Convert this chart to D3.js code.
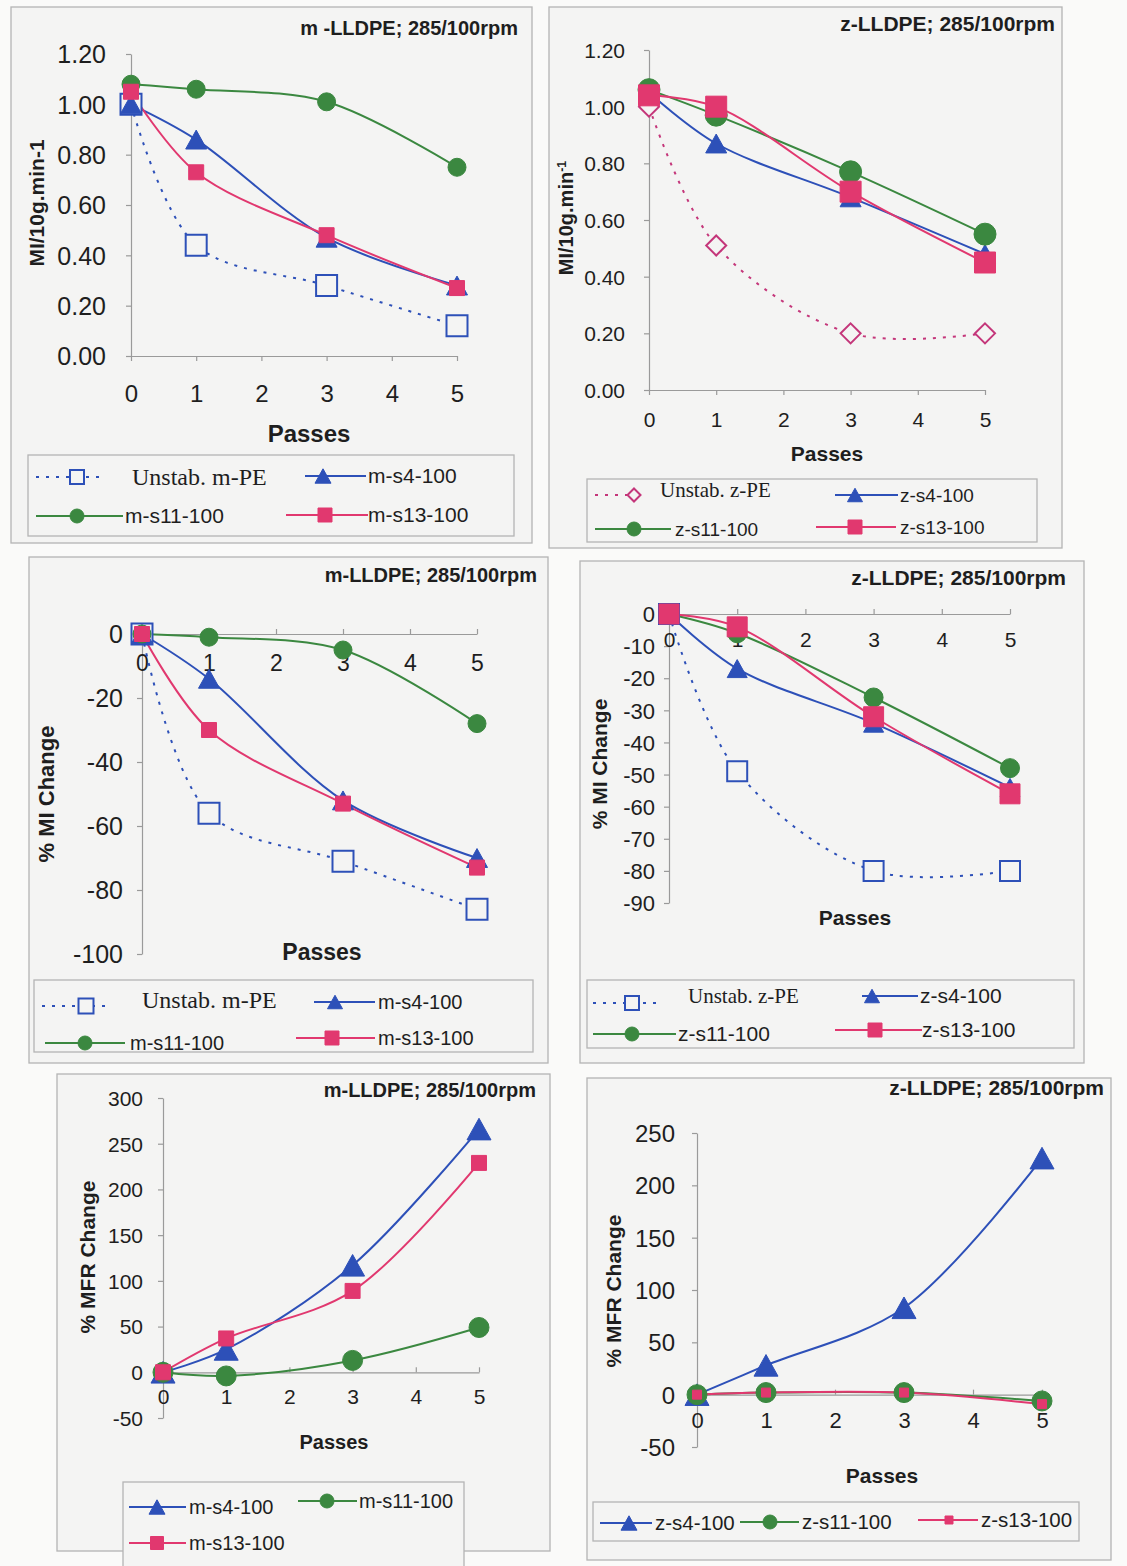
<!DOCTYPE html>
<html>
<head>
<meta charset="utf-8">
<script src="https://cdn.jsdelivr.net/npm/d3@7"></script>
<style>
  html, body { margin: 0; padding: 0; background: #fafaf9; }
  svg { display: block; }
</style>
</head>
<body>
<svg id="fig" width="1127" height="1566"></svg>
<script>
// ---------- data ----------
const passes = [0, 1, 3, 5];
const passTicks = [0, 1, 2, 3, 4, 5];

// melt index, MI/10g.min-1
const miM_unstab = [1.00, 0.44, 0.28, 0.12];
const miM_s4     = [1.00, 0.86, 0.47, 0.28];
const miM_s11    = [1.08, 1.06, 1.01, 0.75];
const miM_s13    = [1.05, 0.73, 0.48, 0.27];
const miZ_unstab = [1.00, 0.51, 0.20, 0.20];
const miZ_s4     = [1.05, 0.87, 0.68, 0.48];
const miZ_s11    = [1.06, 0.97, 0.77, 0.55];
const miZ_s13    = [1.04, 1.00, 0.70, 0.45];

// % MI change
const pctM_unstab = [0, -56, -71, -86];
const pctM_s4     = [0, -14, -52, -70];
const pctM_s11    = [0, -1, -5, -28];
const pctM_s13    = [0, -30, -53, -73];
const pctZ_unstab = [0, -49, -80, -80];
const pctZ_s4     = [0, -17, -34, -54];
const pctZ_s11    = [0, -6, -26, -48];
const pctZ_s13    = [0, -4, -32, -56];

// % MFR change
const mfrM_s4  = [0, 25, 117, 266];
const mfrM_s11 = [0, -4, 13, 49];
const mfrM_s13 = [0, 37, 89, 229];
const mfrZ_s4  = [0, 28, 83, 226];
const mfrZ_s11 = [0, 2, 2, -6];
const mfrZ_s13 = [0, 2, 2, -9];

// tick values
const miTicks   = [0, 0.2, 0.4, 0.6, 0.8, 1.0, 1.2];
const pctMTicks = [0, -20, -40, -60, -80, -100];
const pctZTicks = [0, -10, -20, -30, -40, -50, -60, -70, -80, -90];
const mfrMTicks = [-50, 0, 50, 100, 150, 200, 250, 300];
const mfrZTicks = [-50, 0, 50, 100, 150, 200, 250];

// series names
const namesM = ["Unstab. m-PE", "m-s4-100", "m-s11-100", "m-s13-100"];
const namesZ = ["Unstab. z-PE", "z-s4-100", "z-s11-100", "z-s13-100"];
const titleM1 = "m -LLDPE; 285/100rpm";
const titleM = "m-LLDPE; 285/100rpm";
const titleZ = "z-LLDPE; 285/100rpm";

// ---------- styling ----------
const SANS = '"Liberation Sans", Arial, sans-serif';
const SERIF = '"Liberation Serif", "Times New Roman", serif';
const C = { blue: "#2d50b8", green: "#3b8840", red: "#e1386f", magenta: "#c4367a",
            axis: "#9a9a9a", frame: "#b4b4b4", text: "#1e1e1e", panel: "#f4f4f3" };

const svg = d3.select("#fig");

function markerPath(type, s) {
  const h = s / 2;
  if (type === "triangle") { const t = s * 0.9 / 2; return `M0,${-t}L${h},${t}L${-h},${t}Z`; }
  if (type === "square" || type === "osquare") return `M${-h},${-h}H${h}V${h}H${-h}Z`;
  if (type === "diamond") return `M0,${-h}L${h},0L0,${h}L${-h},0Z`;
  const p = d3.path(); p.arc(0, 0, h, 0, 2 * Math.PI); p.closePath(); return p.toString();
}

function drawMarker(g, type, color, s, x, y) {
  const open = type === "osquare" || type === "diamond";
  g.append("path")
    .attr("d", markerPath(type, s))
    .attr("transform", `translate(${x},${y})`)
    .attr("fill", open ? C.panel : color)
    .attr("stroke", color)
    .attr("stroke-width", open ? 2 : 1);
}

function drawPanel(p) {
  const g = svg.append("g");
  const [fx0, fy0, fx1, fy1] = p.frame;
  g.append("rect").attr("x", fx0).attr("y", fy0).attr("width", fx1 - fx0).attr("height", fy1 - fy0)
    .attr("fill", C.panel).attr("stroke", C.frame).attr("stroke-width", 1.3);

  const x = d3.scaleLinear().domain([0, 5]).range(p.x);
  const y = d3.scaleLinear().domain(p.yDomain).range(p.y);

  // y axis
  const ya = g.append("g").attr("transform", `translate(${x(0)},0)`)
    .call(d3.axisLeft(y).tickValues(p.yTicks).tickFormat(p.yFmt).tickSizeInner(5).tickSizeOuter(0));
  ya.select(".domain").attr("stroke", C.axis).attr("stroke-width", 1.2);
  ya.selectAll(".tick line").attr("stroke", C.axis).attr("stroke-width", 1.2);
  ya.selectAll(".tick text").attr("x", -p.yLabGap).attr("dy", "0.35em")
    .attr("font-family", SANS).attr("font-size", p.yFont).attr("fill", C.text);

  // x axis
  const xa = g.append("g").attr("transform", `translate(0,${y(0)})`)
    .call(d3.axisBottom(x).tickValues(passTicks).tickFormat(d3.format("d"))
      .tickSizeInner(5 * p.xTickDir).tickSizeOuter(0));
  xa.select(".domain").attr("stroke", C.axis).attr("stroke-width", 1.2);
  xa.selectAll(".tick line").attr("stroke", C.axis).attr("stroke-width", 1.2);
  xa.selectAll(".tick text").attr("y", p.xLabOff).attr("dy", "0.35em")
    .attr("font-family", SANS).attr("font-size", p.xFont).attr("fill", C.text);

  // titles
  g.append("text").attr("x", p.title.x).attr("y", p.title.y).attr("text-anchor", "end")
    .attr("font-family", SANS).attr("font-weight", "bold").attr("font-size", p.title.size)
    .attr("fill", C.text).text(p.title.text);
  g.append("text").attr("x", p.xTitle.x).attr("y", p.xTitle.y).attr("text-anchor", "middle")
    .attr("dy", "0.35em").attr("font-family", SANS).attr("font-weight", "bold")
    .attr("font-size", p.xTitle.size).attr("fill", C.text).text("Passes");
  const yt = g.append("text").attr("transform", `translate(${p.yTitle.x},${p.yTitle.y}) rotate(-90)`)
    .attr("text-anchor", "middle").attr("dy", "0.35em").attr("font-family", SANS)
    .attr("font-weight", "bold").attr("font-size", p.yTitle.size).attr("fill", C.text);
  yt.append("tspan").text(p.yTitle.text);
  if (p.yTitle.sup) {
    yt.append("tspan").attr("dy", "-0.55em").attr("font-size", p.yTitle.size * 0.62).text(p.yTitle.sup);
  }

  // series
  const line = d3.line().x(d => x(d[0])).y(d => y(d[1])).curve(d3.curveCatmullRom.alpha(0.5));
  p.series.forEach(s => {
    const pts = passes.map((v, i) => [v, s.values[i]]);
    g.append("path").attr("d", line(pts)).attr("fill", "none").attr("stroke", s.color)
      .attr("stroke-width", 2).attr("stroke-dasharray", s.dashed ? "3,7" : null);
  });
  p.series.forEach(s => {
    passes.forEach((v, i) => drawMarker(g, s.marker, s.color, s.size, x(v), y(s.values[i])));
  });

  // legend
  const [lx0, ly0, lx1, ly1] = p.legend.box;
  g.append("rect").attr("x", lx0).attr("y", ly0).attr("width", lx1 - lx0).attr("height", ly1 - ly0)
    .attr("fill", C.panel).attr("stroke", C.frame).attr("stroke-width", 1.3);
  p.legend.items.forEach(it => {
    const s = p.series[it.s];
    g.append("line").attr("x1", it.l0).attr("x2", it.l1).attr("y1", it.y).attr("y2", it.y)
      .attr("stroke", s.color).attr("stroke-width", 2).attr("stroke-dasharray", s.dashed ? "3,7" : null);
    drawMarker(g, s.marker, s.color, it.ms, it.mx, it.y);
    g.append("text").attr("x", it.tx).attr("y", it.ty !== undefined ? it.ty : it.y).attr("dy", "0.35em")
      .attr("font-family", s.dashed ? SERIF : SANS).attr("font-size", s.dashed ? p.legend.serifSize : p.legend.size)
      .attr("fill", C.text).text(s.name);
  });
}

const fmt2 = d3.format(".2f");
const fmtInt = d => String(d);

function mSeries(vals, sizes, unstabMarker, unstabColor) {
  return [
    { name: namesM[0], values: vals[0], color: unstabColor || C.blue, marker: unstabMarker || "osquare", dashed: true, size: sizes[0] },
    { name: namesM[1], values: vals[1], color: C.blue, marker: "triangle", size: sizes[1] },
    { name: namesM[2], values: vals[2], color: C.green, marker: "circle", size: sizes[2] },
    { name: namesM[3], values: vals[3], color: C.red, marker: "square", size: sizes[3] }
  ];
}
function zSeries(vals, sizes, unstabMarker, unstabColor) {
  return mSeries(vals, sizes, unstabMarker, unstabColor).map((s, i) => Object.assign(s, { name: namesZ[i] }));
}

const panels = [
  { // m-LLDPE melt index
    frame: [11, 7, 532, 543], x: [131, 457], y: [356, 54], yDomain: [0, 1.2], yTicks: miTicks, yFmt: fmt2,
    xTickDir: 1, xLabOff: 38, xFont: 24, yFont: 25, yLabGap: 25,
    title: { text: titleM1, x: 518, y: 35, size: 20 },
    xTitle: { x: 309, y: 434, size: 24 },
    yTitle: { x: 37, y: 203, size: 21, text: "MI/10g.min-1" },
    series: mSeries([miM_unstab, miM_s4, miM_s11, miM_s13], [21, 21, 18, 15]),
    legend: { box: [28, 455, 514, 536], size: 21, serifSize: 24, items: [
      { s: 0, y: 477, l0: 36, l1: 104, mx: 77, ms: 14, tx: 132 },
      { s: 1, y: 476, l0: 305, l1: 366, mx: 323, ms: 16, tx: 368 },
      { s: 2, y: 516, l0: 36, l1: 123, mx: 77, ms: 14, tx: 125 },
      { s: 3, y: 515, l0: 286, l1: 368, mx: 325, ms: 14, tx: 368 } ] }
  },
  { // z-LLDPE melt index
    frame: [549, 7, 1062, 548], x: [649, 985], y: [390, 50], yDomain: [0, 1.2], yTicks: miTicks, yFmt: fmt2,
    xTickDir: 1, xLabOff: 30, xFont: 21, yFont: 21, yLabGap: 24,
    title: { text: titleZ, x: 1055, y: 31, size: 21 },
    xTitle: { x: 827, y: 454, size: 21 },
    yTitle: { x: 566, y: 218, size: 20, text: "MI/10g.min", sup: "-1" },
    series: zSeries([miZ_unstab, miZ_s4, miZ_s11, miZ_s13], [20, 21, 22, 21], "diamond", C.magenta),
    legend: { box: [587, 479, 1037, 542], size: 19, serifSize: 21, items: [
      { s: 0, y: 495, ty: 490, l0: 595, l1: 638, mx: 634, ms: 13, tx: 660 },
      { s: 1, y: 495, l0: 835, l1: 898, mx: 855, ms: 15, tx: 900 },
      { s: 2, y: 529, l0: 595, l1: 671, mx: 634, ms: 14, tx: 675 },
      { s: 3, y: 527, l0: 816, l1: 896, mx: 855, ms: 14, tx: 900 } ] }
  },
  { // m-LLDPE % MI change
    frame: [29, 557, 548, 1063], x: [142, 477], y: [634, 954], yDomain: [0, -100], yTicks: pctMTicks, yFmt: fmtInt,
    xTickDir: -1, xLabOff: 29, xFont: 23, yFont: 25, yLabGap: 19,
    title: { text: titleM, x: 537, y: 582, size: 20 },
    xTitle: { x: 322, y: 952, size: 23 },
    yTitle: { x: 46, y: 794, size: 22, text: "% MI Change" },
    series: mSeries([pctM_unstab, pctM_s4, pctM_s11, pctM_s13], [21, 21, 18, 15]),
    legend: { box: [34, 980, 533, 1052], size: 20, serifSize: 24, items: [
      { s: 0, y: 1006, ty: 1000, l0: 42, l1: 112, mx: 86, ms: 15, tx: 142 },
      { s: 1, y: 1002, l0: 314, l1: 375, mx: 335, ms: 15, tx: 378 },
      { s: 2, y: 1043, l0: 45, l1: 125, mx: 85, ms: 14, tx: 130 },
      { s: 3, y: 1038, l0: 296, l1: 375, mx: 332, ms: 14, tx: 378 } ] }
  },
  { // z-LLDPE % MI change
    frame: [580, 561, 1084, 1063], x: [669, 1010], y: [614, 903], yDomain: [0, -90], yTicks: pctZTicks, yFmt: fmtInt,
    xTickDir: -1, xLabOff: 26, xFont: 21, yFont: 22, yLabGap: 14,
    title: { text: titleZ, x: 1066, y: 585, size: 21 },
    xTitle: { x: 855, y: 918, size: 21 },
    yTitle: { x: 600, y: 764, size: 21, text: "% MI Change" },
    series: zSeries([pctZ_unstab, pctZ_s4, pctZ_s11, pctZ_s13], [20, 20, 19, 20]),
    legend: { box: [587, 980, 1074, 1048], size: 21, serifSize: 21, items: [
      { s: 0, y: 1003, ty: 996, l0: 593, l1: 658, mx: 632, ms: 14, tx: 688 },
      { s: 1, y: 996, l0: 862, l1: 918, mx: 872, ms: 15, tx: 920 },
      { s: 2, y: 1034, l0: 593, l1: 676, mx: 632, ms: 14, tx: 678 },
      { s: 3, y: 1030, l0: 835, l1: 922, mx: 875, ms: 14, tx: 922 } ] }
  },
  { // m-LLDPE % MFR change
    frame: [57, 1074, 550, 1551], x: [163, 479], y: [1418, 1098], yDomain: [-50, 300], yTicks: mfrMTicks, yFmt: fmtInt,
    xTickDir: -1, xLabOff: 24, xFont: 21, yFont: 21, yLabGap: 20,
    title: { text: titleM, x: 536, y: 1097, size: 20 },
    xTitle: { x: 334, y: 1442, size: 20 },
    yTitle: { x: 88, y: 1257, size: 21, text: "% MFR Change" },
    series: mSeries([null, mfrM_s4, mfrM_s11, mfrM_s13], [0, 24, 20, 15]).slice(1),
    legend: { box: [123, 1482, 464, 1580], size: 20, serifSize: 20, items: [
      { s: 0, y: 1507, l0: 129, l1: 186, mx: 157, ms: 16, tx: 189 },
      { s: 1, y: 1501, l0: 298, l1: 357, mx: 327, ms: 14, tx: 359 },
      { s: 2, y: 1543, l0: 129, l1: 186, mx: 157, ms: 13, tx: 189 } ] }
  },
  { // z-LLDPE % MFR change
    frame: [587, 1078, 1111, 1560], x: [697, 1042], y: [1447, 1133], yDomain: [-50, 250], yTicks: mfrZTicks, yFmt: fmtInt,
    xTickDir: -1, xLabOff: 26, xFont: 22, yFont: 24, yLabGap: 22,
    title: { text: titleZ, x: 1104, y: 1095, size: 21 },
    xTitle: { x: 882, y: 1476, size: 21 },
    yTitle: { x: 614, y: 1291, size: 21, text: "% MFR Change" },
    series: zSeries([null, mfrZ_s4, mfrZ_s11, mfrZ_s13], [0, 24, 20, 9]).slice(1),
    legend: { box: [593, 1502, 1079, 1541], size: 20.5, serifSize: 20.5, items: [
      { s: 0, y: 1523, l0: 600, l1: 652, mx: 629, ms: 16, tx: 655 },
      { s: 1, y: 1522, l0: 740, l1: 799, mx: 770, ms: 14, tx: 802 },
      { s: 2, y: 1520, l0: 918, l1: 978, mx: 949, ms: 8, tx: 981 } ] }
  }
];

panels.forEach(drawPanel);
</script>
</body>
</html>
